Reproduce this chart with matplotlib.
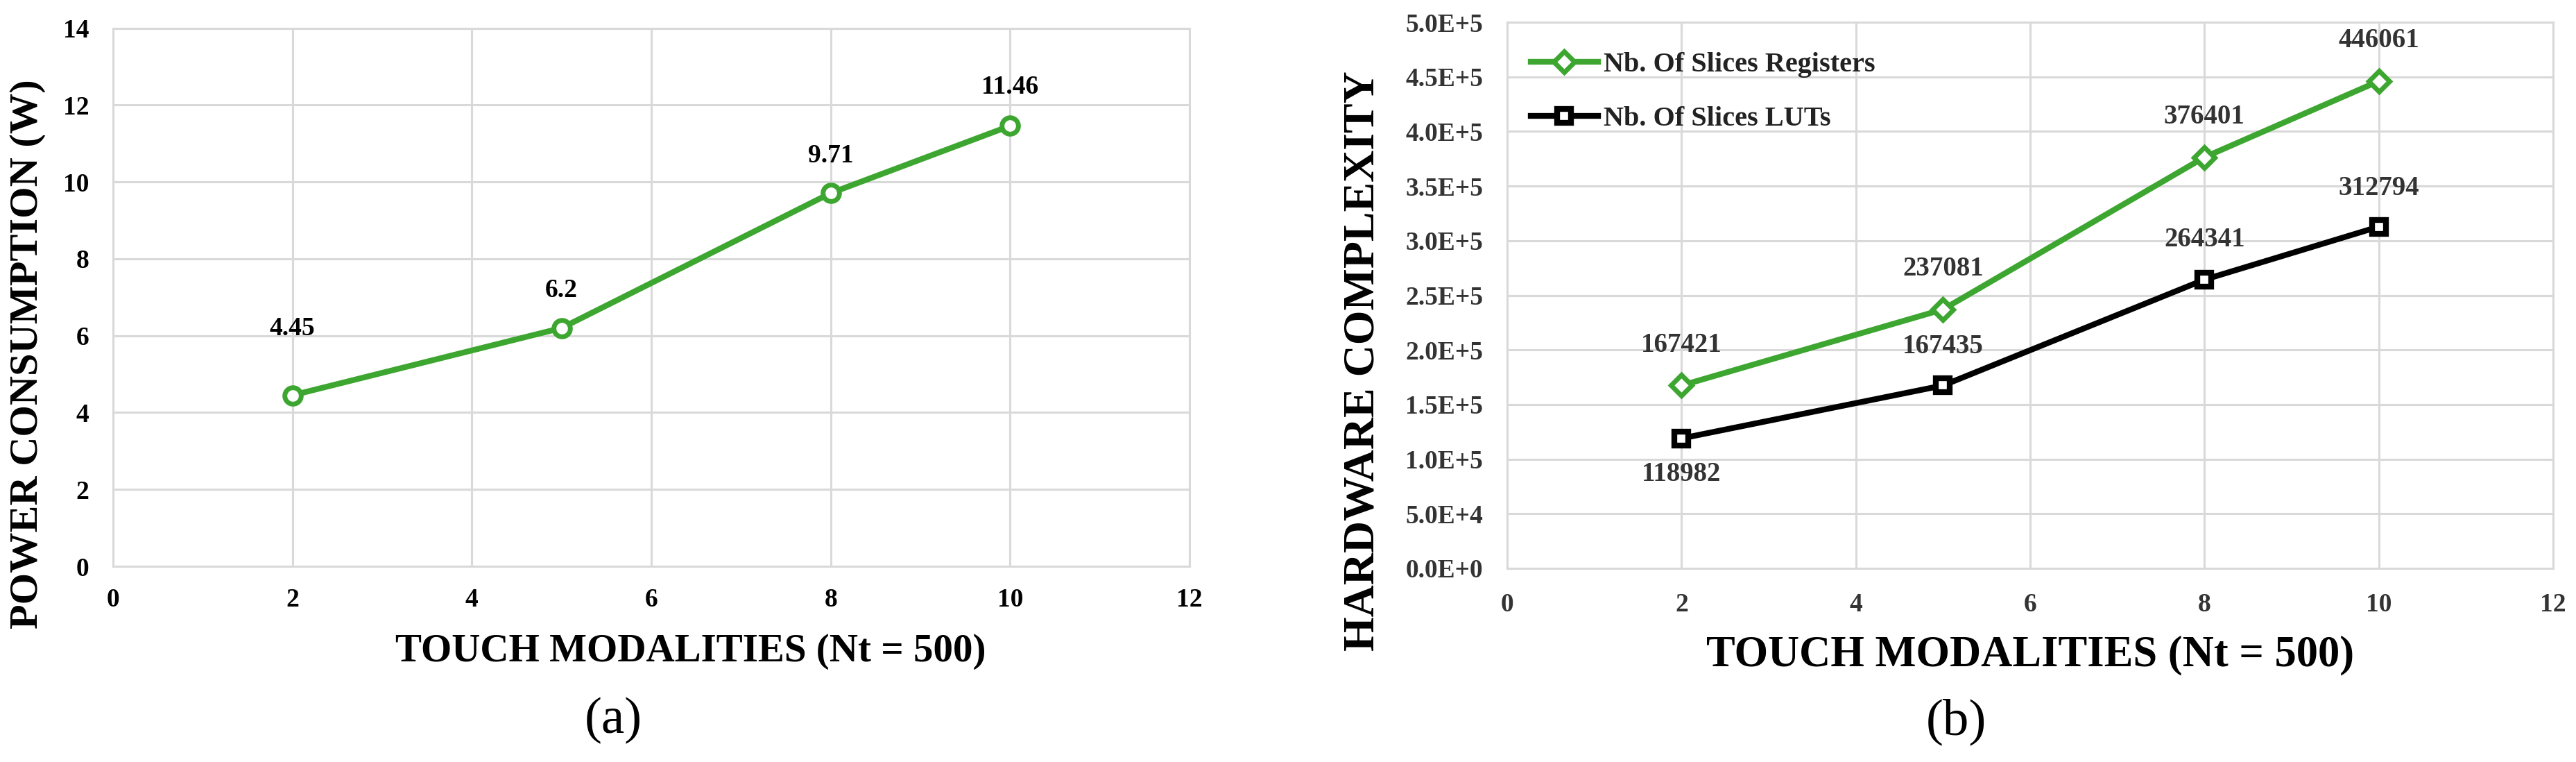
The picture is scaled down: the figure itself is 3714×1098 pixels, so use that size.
import matplotlib
matplotlib.use("Agg")
import matplotlib.pyplot as plt
from matplotlib.ticker import FuncFormatter

# ---------------- data ----------------
modalities = [2, 5, 8, 10]
power_w = [4.45, 6.2, 9.71, 11.46]
power_labels = ["4.45", "6.2", "9.71", "11.46"]

slices_registers = [167421, 237081, 376401, 446061]
slices_luts = [118982, 167435, 264341, 312794]
series_names = ["Nb. Of Slices Registers", "Nb. Of Slices LUTs"]

x_ticks = [0, 2, 4, 6, 8, 10, 12]
power_ticks = [0, 2, 4, 6, 8, 10, 12, 14]
hw_ticks = [0, 50000, 100000, 150000, 200000, 250000, 300000, 350000, 400000, 450000, 500000]

xlabel_text = "TOUCH MODALITIES (Nt = 500)"
ylabel_a = "POWER CONSUMPTION (W)"
ylabel_b = "HARDWARE COMPLEXITY"
panel_a = "(a)"
panel_b = "(b)"

# ---------------- style ----------------
plt.rcParams["font.family"] = ["Liberation Serif", "DejaVu Serif"]
GREEN = "#3DA630"
GRID = "#D9D9D9"
W, H, DPI = 3714, 1098, 100

fig = plt.figure(figsize=(W / DPI, H / DPI), dpi=DPI)
fig.patch.set_facecolor("white")


def frac_axes(x0, x1, ytop, ybot):
    return fig.add_axes([x0 / W, 1 - ybot / H, (x1 - x0) / W, (ybot - ytop) / H])


def style_axes(ax):
    ax.set_xlim(0, 12)
    ax.set_xticks(x_ticks)
    ax.grid(True, color=GRID, linewidth=2.2)
    ax.set_axisbelow(True)
    for s in ax.spines.values():
        s.set_color(GRID)
        s.set_linewidth(2.2)
    ax.tick_params(length=0)


# ---------------- panel (a) ----------------
ax1 = frac_axes(163, 1715, 40.7, 816)
style_axes(ax1)
ax1.set_ylim(0, 14)
ax1.set_yticks(power_ticks)
ax1.plot(modalities, power_w, color=GREEN, linewidth=6, marker="o",
         markersize=17, markerfacecolor="white", markeredgecolor=GREEN,
         markeredgewidth=5, zorder=3, clip_on=False)
offsets_a = [69, 39, 39, 40]
for x, y, t, dy in zip(modalities, power_w, power_labels, offsets_a):
    ax1.annotate(t, (x, y), xytext=(0, dy), textcoords="offset points",
                 ha="center", va="center", fontsize=27, fontweight="bold",
                 color="black")
ax1.tick_params(axis="y", pad=25, labelsize=27)
ax1.tick_params(axis="x", pad=22, labelsize=27)
for lab in ax1.get_xticklabels() + ax1.get_yticklabels():
    lab.set_fontweight("bold")
    lab.set_color("black")

fig.text(40 / W, 1 - 510 / H, ylabel_a, rotation=90, ha="center", va="center",
         fontsize=42, fontweight="bold")
fig.text(996 / W, 1 - 939 / H, xlabel_text, ha="center", va="center",
         fontsize=41, fontweight="bold")
fig.text(884 / W, 1 - 1038 / H, panel_a, ha="center", va="center", fontsize=54)

# ---------------- panel (b) ----------------
ax2 = frac_axes(2173, 3681, 32, 819)
style_axes(ax2)
ax2.set_ylim(0, 500000)
ax2.set_yticks(hw_ticks)
ax2.yaxis.set_major_formatter(FuncFormatter(
    lambda v, p: "%.1fE+%d" % (v / 10 ** (len(str(int(v))) - 1), len(str(int(v))) - 1)
    if v > 0 else "0.0E+0"))
l1, = ax2.plot(modalities, slices_registers, color=GREEN, linewidth=6, marker="D",
               markersize=15, markerfacecolor="white", markeredgecolor=GREEN,
               markeredgewidth=5, zorder=3, label=series_names[0])
l2, = ax2.plot(modalities, slices_luts, color="black", linewidth=6, marker="s",
               markersize=15, markerfacecolor="white", markeredgecolor="black",
               markeredgewidth=6, zorder=3, label=series_names[1])
for x, y in zip(modalities, slices_registers):
    ax2.annotate(str(y), (x, y), xytext=(0, 42), textcoords="offset points",
                 ha="center", va="center", fontsize=28, fontweight="bold",
                 color="#333333")
offsets_b = [-37, 40, 41, 40]
for x, y, dy in zip(modalities, slices_luts, offsets_b):
    ax2.annotate(str(y), (x, y), xytext=(0, dy), textcoords="offset points",
                 ha="center", va="center", fontsize=28, fontweight="bold",
                 color="#333333")
ax2.tick_params(axis="y", pad=25, labelsize=27)
ax2.tick_params(axis="x", pad=25, labelsize=27)
for lab in ax2.get_xticklabels() + ax2.get_yticklabels():
    lab.set_fontweight("bold")
    lab.set_color("#333333")

leg = ax2.legend(loc="upper left", bbox_to_anchor=(0.0225, 0.945), frameon=False,
                 fontsize=29, handlelength=2.4, handletextpad=0.2,
                 labelspacing=1.0, borderpad=0, borderaxespad=0)
for t in leg.get_texts():
    t.set_fontweight("bold")
    t.set_color("#222222")

fig.text(1965 / W, 1 - 520 / H, ylabel_b, rotation=90, ha="center", va="center",
         fontsize=46, fontweight="bold")
fig.text(2927 / W, 1 - 944 / H, xlabel_text, ha="center", va="center",
         fontsize=45, fontweight="bold")
fig.text(2820 / W, 1 - 1040 / H, panel_b, ha="center", va="center", fontsize=54)

fig.savefig("out.png", dpi=DPI, facecolor="white")
